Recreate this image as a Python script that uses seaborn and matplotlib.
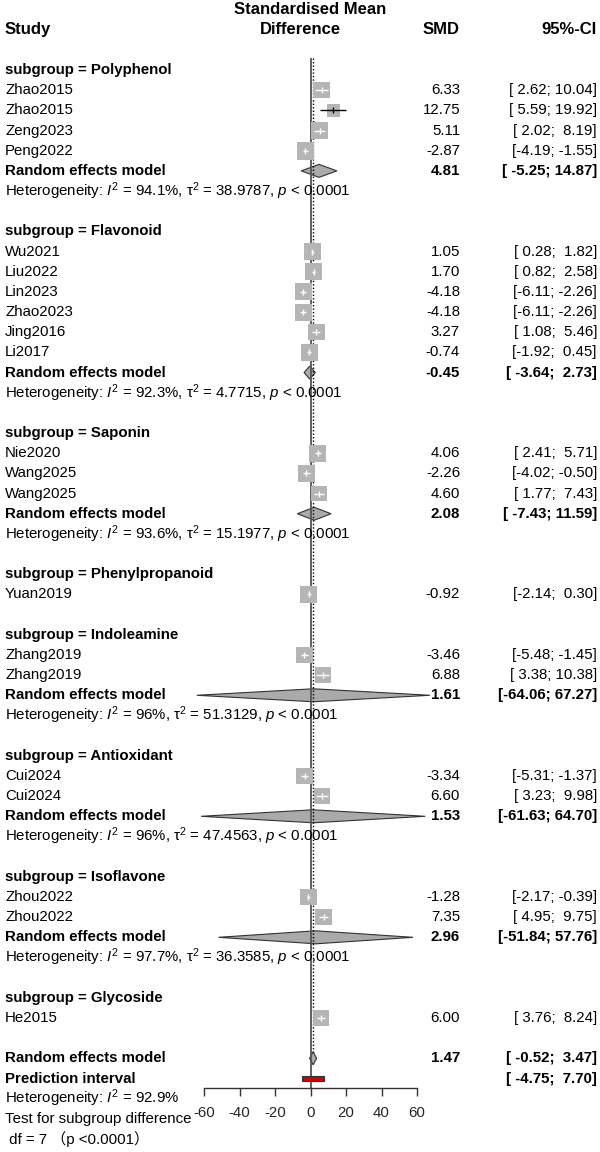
import matplotlib
matplotlib.use("Agg")
import matplotlib.pyplot as plt
import matplotlib.transforms as mtransforms
from matplotlib.patches import Polygon, Rectangle
import numpy as np
import pandas as pd
import seaborn as sns

# data
groups = ["Polyphenol", "Flavonoid", "Saponin", "Phenylpropanoid",
          "Indoleamine", "Antioxidant", "Isoflavone", "Glycoside"]

study = ["Zhao2015", "Zhao2015", "Zeng2023", "Peng2022",
         "Wu2021", "Liu2022", "Lin2023", "Zhao2023", "Jing2016", "Li2017",
         "Nie2020", "Wang2025", "Wang2025",
         "Yuan2019",
         "Zhang2019", "Zhang2019",
         "Cui2024", "Cui2024",
         "Zhou2022", "Zhou2022",
         "He2015"]
study_group = ["Polyphenol"] * 4 + ["Flavonoid"] * 6 + ["Saponin"] * 3 + \
    ["Phenylpropanoid"] + ["Indoleamine"] * 2 + ["Antioxidant"] * 2 + \
    ["Isoflavone"] * 2 + ["Glycoside"]
smd = [6.33, 12.75, 5.11, -2.87,
       1.05, 1.70, -4.18, -4.18, 3.27, -0.74,
       4.06, -2.26, 4.60,
       -0.92,
       -3.46, 6.88,
       -3.34, 6.60,
       -1.28, 7.35,
       6.00]
lower = [2.62, 5.59, 2.02, -4.19,
         0.28, 0.82, -6.11, -6.11, 1.08, -1.92,
         2.41, -4.02, 1.77,
         -2.14,
         -5.48, 3.38,
         -5.31, 3.23,
         -2.17, 4.95,
         3.76]
upper = [10.04, 19.92, 8.19, -1.55,
         1.82, 2.58, -2.26, -2.26, 5.46, 0.45,
         5.71, -0.50, 7.43,
         0.30,
         -1.45, 10.38,
         -1.37, 9.98,
         -0.39, 9.75,
         8.24]
# approximate weights (%) judged from square sizes
weight = [4.9, 3.0, 4.7, 5.6,
          5.0, 5.1, 5.1, 5.1, 4.8, 5.1,
          4.9, 4.9, 4.4,
          5.1,
          4.8, 4.4,
          4.8, 4.4,
          5.1, 4.7,
          4.7]

sub_smd = [4.81, -0.45, 2.08, None, 1.61, 1.53, 2.96, None]
sub_lower = [-5.25, -3.64, -7.43, None, -64.06, -61.63, -51.84, None]
sub_upper = [14.87, 2.73, 11.59, None, 67.27, 64.70, 57.76, None]
sub_i2 = ["94.1%", "92.3%", "93.6%", None, "96%", "96%", "97.7%", None]
sub_tau2 = ["38.9787", "4.7715", "15.1977", None, "51.3129", "47.4563", "36.3585", None]

overall = [1.47, -0.52, 3.47]
pred_int = [-4.75, 7.70]
overall_i2 = "92.9%"

# ---- row layout
rows_study, rows_header, rows_rem = [], [], []
r = 3
for gi, g in enumerate(groups):
    rows_header.append(r)
    r += 1
    for s, sg in zip(study, study_group):
        if sg == g:
            rows_study.append(r)
            r += 1
    if sub_smd[gi] is not None:
        rows_rem.append(r)
        r += 2
    else:
        rows_rem.append(None)
    r += 1
row_overall = r
row_pred = r + 1

df = pd.DataFrame({"study": study, "group": study_group, "smd": smd,
                   "lower": lower, "upper": upper, "weight": weight,
                   "row": rows_study})

sns.set_theme(style="white")
plt.rcParams["font.family"] = ["Liberation Sans", "Noto Sans CJK SC", "DejaVu Sans"]
plt.rcParams["mathtext.fontset"] = "custom"
plt.rcParams["mathtext.rm"] = "Liberation Sans"
plt.rcParams["mathtext.it"] = "Liberation Sans:italic"
plt.rcParams["mathtext.bf"] = "Liberation Sans:bold"
plt.rcParams["axes.unicode_minus"] = False

W, H = 600, 1152
fig = plt.figure(figsize=(6, 11.52), dpi=100)
x0, x1 = 204, 417
ax = fig.add_axes([x0 / W, 0, (x1 - x0) / W, 1])
ax.set_xlim(-60, 60)
row_h = 20.17
ax.set_ylim((H - 9.5) / row_h, -9.5 / row_h)
ax.set_facecolor("none")
px_per_unit = (x1 - x0) / 120.0
fs = 10.8
fs_head = 12

# axis at bottom
axis_row = (1088 - 9.5) / row_h
for sp in ["top", "left", "right"]:
    ax.spines[sp].set_visible(False)
ax.spines["bottom"].set_position(("data", axis_row))
ax.spines["bottom"].set_color("#333333")
ax.spines["bottom"].set_linewidth(1.0)
ax.set_xticks([-60, -40, -20, 0, 20, 40, 60])
ax.set_yticks([])
ax.tick_params(axis="x", direction="out", length=6, width=1.0, color="#333333",
               labelsize=fs, pad=7, bottom=True)
ax.grid(False)

# reference lines
top_row = 2.4
diam_h = 6.5 / row_h
ax.vlines(0, top_row, axis_row, color="#555555", lw=1.3, zorder=2)
ax.vlines(overall[0], top_row, row_overall - diam_h, color="black", lw=1.0,
          linestyles=(0, (1, 1.5)), zorder=2)

# squares
k_side = 7.5
side_px = k_side * np.sqrt(df["weight"].to_numpy())
sizes = (side_px * 72 / 100) ** 2
sns.scatterplot(x=df["smd"], y=df["row"], s=sizes, marker="s", color="#B5B5B5",
                linewidth=0, ax=ax, zorder=3, legend=False)
ax.set_xlabel("")
ax.set_ylabel("")
tick_h = 3 / row_h
for _, d in df.iterrows():
    half = np.sqrt(d["weight"]) * k_side / 2 / px_per_unit
    inside = (d["lower"] >= d["smd"] - half) and (d["upper"] <= d["smd"] + half)
    c = "white" if inside else "black"
    ax.hlines(d["row"], d["lower"], d["upper"], color=c, lw=1.0, zorder=4)
    ax.vlines(d["smd"], d["row"] - tick_h, d["row"] + tick_h, color=c, lw=1.0, zorder=4)


def diamond(est, lo, hi, y):
    p = Polygon([(lo, y), (est, y - diam_h), (hi, y), (est, y + diam_h)],
                closed=True, facecolor="#AAAAAA", edgecolor="#333333", lw=0.8,
                zorder=1, clip_on=False)
    ax.add_patch(p)


for gi in range(len(groups)):
    if sub_smd[gi] is not None:
        diamond(sub_smd[gi], sub_lower[gi], sub_upper[gi], rows_rem[gi])
diamond(overall[0], overall[1], overall[2], row_overall)
pi_h = 5 / row_h
ax.add_patch(Rectangle((pred_int[0], row_pred - pi_h / 2), pred_int[1] - pred_int[0], pi_h,
                       facecolor="#D00000", edgecolor="#333333", lw=0.8, zorder=3,
                       clip_on=False))

# ---- text columns
trans = mtransforms.blended_transform_factory(fig.transFigure, ax.transData)
xl, xs, xc = 5 / W, 460 / W, 597 / W


def txt(x, y, s, ha="left", bold=False, size=fs):
    ax.text(x, y, s, transform=trans, ha=ha, va="center", fontsize=size,
            fontweight="bold" if bold else "normal", color="black", clip_on=False)


txt(310 / W, 0, "Standardised Mean", ha="center", bold=True, size=fs_head)
txt(xl, 1, "Study", bold=True, size=fs_head)
txt(300 / W, 1, "Difference", ha="center", bold=True, size=fs_head)
txt(xs, 1, "SMD", ha="right", bold=True, size=fs_head)
txt(xc, 1, "95%-CI", ha="right", bold=True, size=fs_head)


def ci(lo, hi, w1=5):
    return "[{:{w}.2f}; {:5.2f}]".format(lo, hi, w=w1)


for gi, g in enumerate(groups):
    txt(xl, rows_header[gi], "subgroup = " + g, bold=True)
    if sub_smd[gi] is not None:
        rr = rows_rem[gi]
        txt(xl, rr, "Random effects model", bold=True)
        txt(xs, rr, "{:.2f}".format(sub_smd[gi]), ha="right", bold=True)
        txt(xc, rr, ci(sub_lower[gi], sub_upper[gi], 6), ha="right", bold=True)
        txt(xl, rr + 1, "Heterogeneity: $I^2$ = " + sub_i2[gi] + ", \u03c4$^2$ = "
            + sub_tau2[gi] + ", $p$ < 0.0001")

for _, d in df.iterrows():
    txt(xl, d["row"], d["study"])
    txt(xs, d["row"], "{:.2f}".format(d["smd"]), ha="right")
    txt(xc, d["row"], ci(d["lower"], d["upper"]), ha="right")

txt(xl, row_overall, "Random effects model", bold=True)
txt(xs, row_overall, "{:.2f}".format(overall[0]), ha="right", bold=True)
txt(xc, row_overall, ci(overall[1], overall[2], 6), ha="right", bold=True)
txt(xl, row_pred, "Prediction interval", bold=True)
txt(xc, row_pred, ci(pred_int[0], pred_int[1], 6), ha="right", bold=True)
txt(xl, row_pred + 1, "Heterogeneity: $I^2$ = " + overall_i2)
txt(xl, row_pred + 2, "Test for subgroup difference")
txt(xl, row_pred + 3, " df = 7 \uff08p <0.0001\uff09")

fig.savefig("out.png", dpi=100)
